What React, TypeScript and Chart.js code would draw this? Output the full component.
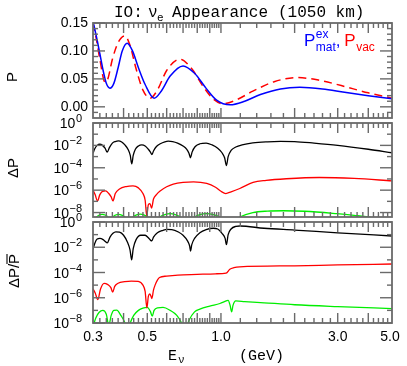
import React, { useEffect, useRef } from 'react';
import { Chart, registerables } from 'chart.js';

Chart.register(...registerables);

const W = 407;
const H = 366;

// ---------- top panel: probabilities ----------
const matE = [0.300, 0.310, 0.320, 0.330, 0.340, 0.352, 0.365, 0.380, 0.395, 0.414, 0.435, 0.460, 0.490, 0.533, 0.570, 0.620, 0.700, 0.780, 0.870, 0.960, 1.090, 1.250, 1.450, 1.750, 2.100, 2.600, 3.200, 4.000, 5.000];
const matP = [0.153, 0.125, 0.095, 0.065, 0.042, 0.0334, 0.042, 0.070, 0.100, 0.1138, 0.100, 0.070, 0.040, 0.0155, 0.028, 0.055, 0.0732, 0.060, 0.033, 0.012, 0.0036, 0.010, 0.022, 0.032, 0.035, 0.032, 0.026, 0.020, 0.0143];

const vacE = [0.300, 0.310, 0.320, 0.336, 0.345, 0.360, 0.380, 0.405, 0.425, 0.450, 0.480, 0.513, 0.550, 0.600, 0.680, 0.760, 0.850, 0.930, 1.020, 1.150, 1.350, 1.650, 2.040, 2.500, 3.100, 4.000, 5.000];
const vacP = [0.150, 0.120, 0.085, 0.044, 0.050, 0.085, 0.115, 0.127, 0.110, 0.068, 0.030, 0.0155, 0.030, 0.065, 0.0852, 0.068, 0.035, 0.014, 0.0054, 0.012, 0.028, 0.045, 0.0523, 0.048, 0.038, 0.025, 0.0155];

// ---------- middle panel: Delta P ----------
const dBlackE = [0.300, 0.305, 0.312, 0.320, 0.328, 0.336, 0.343, 0.350, 0.360, 0.370, 0.381, 0.393, 0.405, 0.418, 0.426, 0.432, 0.438, 0.447, 0.460, 0.475, 0.490, 0.505, 0.515, 0.5225, 0.530, 0.545, 0.565, 0.590, 0.609, 0.635, 0.665, 0.700, 0.725, 0.740, 0.751, 0.762, 0.785, 0.820, 0.870, 0.920, 0.970, 1.010, 1.035, 1.053, 1.070, 1.100, 1.150, 1.220, 1.350, 1.550, 1.750, 2.000, 2.400, 3.000, 4.000, 5.000];
const dBlackV = [2.0e-3, 5.0e-3, 1.0e-2, 1.26e-2, 1.0e-2, 5.6e-3, 2.5e-3, 6.3e-3, 1.6e-2, 2.2e-2, 2.5e-2, 2.0e-2, 1.1e-2, 4.0e-3, 1.26e-3, 2.2e-4, 1.26e-3, 4.5e-3, 8.9e-3, 1.1e-2, 8.9e-3, 4.5e-3, 2.5e-3, 1.5e-3, 3.2e-3, 7.9e-3, 1.4e-2, 2.1e-2, 2.4e-2, 2.2e-2, 1.6e-2, 8.9e-3, 4.5e-3, 2.0e-3, 7.9e-4, 2.5e-3, 7.9e-3, 1.4e-2, 1.6e-2, 1.1e-2, 5.6e-3, 2.2e-3, 7.9e-4, 1.6e-4, 1.0e-3, 3.5e-3, 7.1e-3, 1.1e-2, 1.66e-2, 2.1e-2, 2.3e-2, 2.2e-2, 1.6e-2, 1.0e-2, 4.5e-3, 2.2e-3];

const dRedE = [0.300, 0.306, 0.313, 0.320, 0.328, 0.338, 0.348, 0.356, 0.362, 0.370, 0.385, 0.410, 0.437, 0.460, 0.480, 0.490, 0.4975, 0.505, 0.5128, 0.5205, 0.530, 0.545, 0.5623, 0.600, 0.6386, 0.700, 0.7726, 0.8744, 0.950, 1.000, 1.047, 1.100, 1.194, 1.353, 1.530, 1.850, 2.520, 3.500, 5.000];
const dRedV = [1.0e-6, 4.0e-7, 1.1e-7, 4.0e-7, 7.9e-7, 8.7e-7, 5.0e-7, 2.5e-7, 1.1e-7, 5.0e-7, 1.26e-6, 2.1e-6, 2.4e-6, 1.6e-6, 5.0e-7, 1.26e-7, 5.0e-9, 5.0e-8, 6.3e-8, 2.5e-8, 1.6e-7, 4.0e-7, 7.9e-7, 2.0e-6, 3.5e-6, 5.0e-6, 5.5e-6, 4.0e-6, 1.8e-6, 7.9e-7, 5.0e-7, 7.1e-7, 1.4e-6, 5.0e-6, 7.6e-6, 1.05e-5, 1.35e-5, 1.12e-5, 6.8e-6];

const dGreenE = [0.300, 0.310, 0.318, 0.327, 0.336, 0.345, 0.353, 0.362, 0.371, 0.381, 0.393, 0.405, 0.420, 0.437, 0.452, 0.467, 0.484, 0.502, 0.530, 0.5623, 0.590, 0.620, 0.650, 0.682, 0.730, 0.780, 0.820, 0.874, 0.930, 0.990, 1.090, 1.194, 1.350, 1.550, 1.800, 2.200, 2.970, 3.500, 4.000, 5.000];
const dGreenV = [2.0e-9, 4.0e-9, 6.0e-9, 6.8e-9, 6.0e-9, 4.0e-9, 1.26e-9, 4.0e-9, 6.0e-9, 6.8e-9, 6.0e-9, 4.0e-9, 1.26e-9, 4.0e-9, 6.3e-9, 7.2e-9, 6.3e-9, 4.0e-9, 1.26e-9, 4.0e-9, 6.6e-9, 7.9e-9, 6.6e-9, 4.0e-9, 1.26e-9, 4.0e-9, 6.6e-9, 7.9e-9, 6.6e-9, 4.0e-9, 1.0e-9, 4.0e-9, 1.0e-8, 1.35e-8, 1.45e-8, 1.3e-8, 7.9e-9, 5.6e-9, 4.0e-9, 1.26e-9];

// ---------- bottom panel: Delta P / P-bar ----------
const rBlackE = [0.300, 0.305, 0.312, 0.320, 0.330, 0.337, 0.343, 0.352, 0.362, 0.372, 0.385, 0.400, 0.415, 0.425, 0.4316, 0.438, 0.450, 0.470, 0.490, 0.505, 0.516, 0.522, 0.530, 0.550, 0.580, 0.600, 0.630, 0.670, 0.700, 0.730, 0.745, 0.751, 0.760, 0.780, 0.820, 0.870, 0.930, 0.970, 1.010, 1.040, 1.053, 1.070, 1.100, 1.150, 1.194, 1.500, 2.000, 3.000, 5.000];
const rBlackV = [6.3e-3, 2.0e-2, 4.5e-2, 5.0e-2, 4.0e-2, 2.8e-2, 2.2e-2, 6.3e-2, 1.26e-1, 1.66e-1, 1.58e-1, 8.9e-2, 2.5e-2, 6.3e-3, 1.0e-3, 7.9e-3, 4.0e-2, 8.9e-2, 8.9e-2, 5.6e-2, 3.5e-2, 3.2e-2, 6.3e-2, 1.4e-1, 2.2e-1, 2.6e-1, 2.5e-1, 1.6e-1, 8.9e-2, 3.2e-2, 1.26e-2, 5.0e-3, 1.6e-2, 5.0e-2, 1.4e-1, 2.5e-1, 3.2e-1, 2.8e-1, 1.26e-1, 5.0e-2, 1.6e-2, 1.0e-1, 2.8e-1, 4.5e-1, 4.8e-1, 3.2e-1, 2.3e-1, 1.4e-1, 7.8e-2];

const rRedE = [0.300, 0.306, 0.314, 0.322, 0.333, 0.345, 0.355, 0.361, 0.368, 0.380, 0.404, 0.430, 0.459, 0.480, 0.490, 0.498, 0.505, 0.512, 0.518, 0.522, 0.530, 0.538, 0.550, 0.561, 0.600, 0.667, 0.800, 0.950, 1.050, 1.087, 1.130, 1.194, 2.000, 3.000, 5.000];
const rRedV = [5.0e-6, 2.5e-6, 7.1e-7, 5.0e-6, 1.4e-5, 1.1e-5, 6.3e-6, 2.8e-6, 7.9e-6, 1.4e-5, 1.86e-5, 2.1e-5, 2.0e-5, 1.0e-5, 3.2e-6, 1.6e-7, 1.26e-6, 2.0e-6, 1.26e-6, 8.7e-7, 4.0e-6, 1.0e-5, 2.5e-5, 4.0e-5, 5.2e-5, 6.3e-5, 7.1e-5, 7.9e-5, 8.9e-5, 1.8e-4, 2.4e-4, 2.8e-4, 3.4e-4, 4.0e-4, 4.7e-4];

const rGreenE = [0.300, 0.308, 0.318, 0.329, 0.340, 0.348, 0.356, 0.365, 0.375, 0.390, 0.405, 0.415, 0.426, 0.440, 0.460, 0.480, 0.500, 0.515, 0.524, 0.533, 0.550, 0.580, 0.620, 0.660, 0.690, 0.712, 0.740, 0.780, 0.820, 0.900, 0.990, 1.050, 1.070, 1.090, 1.106, 1.120, 1.150, 1.250, 1.500, 2.000, 3.000, 5.000];
const rGreenV = [5.0e-9, 2.5e-8, 7.1e-8, 1.0e-7, 5.0e-8, 6.3e-9, 4.0e-8, 1.0e-7, 1.05e-7, 4.0e-8, 1.0e-8, 1.6e-9, 1.0e-8, 4.0e-8, 1.0e-7, 1.5e-7, 1.7e-7, 7.9e-8, 3.5e-8, 1.0e-7, 1.6e-7, 1.7e-7, 1.0e-7, 4.0e-8, 1.0e-8, 1.6e-9, 1.6e-8, 7.6e-8, 1.26e-7, 2.2e-7, 3.5e-7, 5.6e-7, 6.3e-7, 2.5e-7, 7.6e-8, 2.5e-7, 5.6e-7, 5.0e-7, 4.0e-7, 2.8e-7, 2.0e-7, 1.4e-7];

// ---------- axes ----------
const xLabelValues = [0.3, 0.5, 1.0, 3.0, 5.0];
const xLabelTexts = ['0.3', '0.5', '1.0', '3.0', '5.0'];
const xMajorTicks = [0.4, 0.5, 0.6, 0.7, 0.8, 0.9, 1.0, 2.0, 3.0, 4.0];
const xMinorTicks = [
  0.32, 0.34, 0.36, 0.38, 0.42, 0.44, 0.46, 0.48, 0.52, 0.54, 0.56, 0.58, 0.62, 0.64, 0.66, 0.68,
  0.72, 0.74, 0.76, 0.78, 0.82, 0.84, 0.86, 0.88, 0.92, 0.94, 0.96, 0.98,
  1.2, 1.4, 1.6, 1.8, 2.2, 2.4, 2.6, 2.8, 3.2, 3.4, 3.6, 3.8, 4.2, 4.4, 4.6, 4.8,
];
const pLabelValues = [0, 0.05, 0.1, 0.15];
const pLabelTexts = ['0.00', '0.05', '0.10', '0.15'];
const pMinorTicks = [-0.01, 0.01, 0.02, 0.03, 0.04, 0.06, 0.07, 0.08, 0.09, 0.11, 0.12, 0.13, 0.14];
const logMajorExp = [0, -2, -4, -6, -8];
const logMinorExp = [-1, -3, -5, -7];

const AXIS = '#6a6a6a';
const SANS = '"Liberation Sans", Arial, sans-serif';
const MONO = '"Liberation Mono", "Courier New", monospace';

type Panel = {
  top: number;
  bottom: number;
  yType: 'linear' | 'logarithmic';
  yMin: number;
  yMax: number;
  series: { e: number[]; v: number[]; color: string; dash?: number[]; width?: number }[];
  kind: 'top' | 'mid' | 'bot';
};

const PLOT_LEFT = 93;
const PLOT_RIGHT = 392;

function toPts(e: number[], v: number[]) {
  return e.map((x, i) => ({ x, y: v[i] }));
}

function makePlugin(panel: Panel) {
  return {
    id: 'frame_' + panel.kind,
    afterDatasetsDraw(chart: any) {
      const ctx: CanvasRenderingContext2D = chart.ctx;
      const a = chart.chartArea;
      const xs = chart.scales.x;
      const ys = chart.scales.y;
      ctx.save();
      ctx.strokeStyle = AXIS;
      ctx.lineWidth = 1.4;
      const seg = (x1: number, y1: number, x2: number, y2: number) => {
        ctx.beginPath();
        ctx.moveTo(x1, y1);
        ctx.lineTo(x2, y2);
        ctx.stroke();
      };
      // x ticks on top and bottom edges
      for (const t of xMajorTicks) {
        const px = xs.getPixelForValue(t);
        seg(px, a.bottom, px, a.bottom - 10);
        seg(px, a.top, px, a.top + 10);
      }
      for (const t of xMinorTicks) {
        const px = xs.getPixelForValue(t);
        seg(px, a.bottom, px, a.bottom - 5);
        seg(px, a.top, px, a.top + 5);
      }
      // y ticks
      let majorVals: number[];
      let minorVals: number[];
      if (panel.yType === 'linear') {
        majorVals = pLabelValues;
        minorVals = pMinorTicks;
      } else {
        majorVals = logMajorExp.map((e) => Math.pow(10, e));
        minorVals = logMinorExp.map((e) => Math.pow(10, e));
      }
      for (const v of majorVals) {
        const py = ys.getPixelForValue(v);
        if (py < a.top - 0.5 || py > a.bottom + 0.5) continue;
        seg(a.left, py, a.left + 12, py);
        seg(a.right, py, a.right - 12, py);
      }
      for (const v of minorVals) {
        const py = ys.getPixelForValue(v);
        if (py < a.top - 0.5 || py > a.bottom + 0.5) continue;
        seg(a.left, py, a.left + 5, py);
        seg(a.right, py, a.right - 5, py);
      }
      // frame
      ctx.lineWidth = 1.8;
      ctx.strokeRect(a.left, a.top, a.right - a.left, a.bottom - a.top);

      // y tick labels
      ctx.fillStyle = '#000';
      if (panel.yType === 'linear') {
        ctx.font = '14px ' + SANS;
        ctx.textAlign = 'right';
        ctx.textBaseline = 'middle';
        pLabelValues.forEach((v, i) => {
          ctx.fillText(pLabelTexts[i], 88, ys.getPixelForValue(v));
        });
      } else {
        ctx.textBaseline = 'alphabetic';
        logMajorExp.forEach((e) => {
          const py = ys.getPixelForValue(Math.pow(10, e));
          const expText = e === 0 ? '0' : '\u2212' + String(-e);
          ctx.font = '11px ' + SANS;
          const ew = ctx.measureText(expText).width;
          ctx.textAlign = 'left';
          const baseRight = 82 - ew - 0.5;
          ctx.fillText(expText, baseRight + 0.5, py - 1);
          ctx.font = '14px ' + SANS;
          ctx.textAlign = 'right';
          ctx.fillText('10', baseRight, py + 5);
        });
      }

      // axis titles and extra text
      ctx.textAlign = 'left';
      ctx.textBaseline = 'alphabetic';
      if (panel.kind === 'top') {
        // title
        ctx.fillStyle = '#000';
        ctx.font = '16px ' + MONO;
        ctx.fillText('IO:', 114, 17);
        ctx.fillText('\u03bd', 148, 17);
        ctx.font = '11px ' + MONO;
        ctx.fillText('e', 157, 21);
        ctx.font = '16px ' + MONO;
        ctx.fillText('Appearance', 172, 17);
        ctx.fillText('(1050 km)', 278, 17);
        // legend
        const big = '17px ' + SANS;
        const small = '12px ' + SANS;
        let x = 304;
        ctx.fillStyle = '#0000ff';
        ctx.font = big;
        ctx.fillText('P', x, 46);
        x += ctx.measureText('P').width + 0.5;
        ctx.font = small;
        ctx.fillText('ex', x, 38);
        ctx.fillText('mat', x, 51);
        x += ctx.measureText('mat').width;
        ctx.font = big;
        ctx.fillText(',', x, 46);
        x += ctx.measureText(', ').width - 1;
        ctx.fillStyle = '#ff0000';
        ctx.fillText('P', x, 46);
        x += ctx.measureText('P').width + 0.5;
        ctx.font = small;
        ctx.fillText('vac', x, 51);
        // y title
        ctx.fillStyle = '#000';
        ctx.save();
        ctx.translate(13, 77);
        ctx.rotate(-Math.PI / 2);
        ctx.font = '15px ' + SANS;
        ctx.textAlign = 'center';
        ctx.textBaseline = 'middle';
        ctx.fillText('P', 0, 0);
        ctx.restore();
      } else if (panel.kind === 'mid') {
        ctx.save();
        ctx.translate(14, 168);
        ctx.rotate(-Math.PI / 2);
        ctx.font = '15px ' + SANS;
        ctx.textAlign = 'center';
        ctx.textBaseline = 'middle';
        ctx.fillText('\u0394P', 0, 0);
        ctx.restore();
      } else {
        // y title with overline on second P
        ctx.save();
        ctx.translate(15, 271);
        ctx.rotate(-Math.PI / 2);
        ctx.font = '15px ' + SANS;
        ctx.textBaseline = 'middle';
        const t1 = '\u0394P/';
        const w1 = ctx.measureText(t1).width;
        const w2 = ctx.measureText('P').width;
        const x0 = -(w1 + w2) / 2;
        ctx.textAlign = 'left';
        ctx.fillText(t1, x0, 0);
        ctx.fillText('P', x0 + w1, 0);
        ctx.strokeStyle = '#000';
        ctx.lineWidth = 1.1;
        ctx.beginPath();
        ctx.moveTo(x0 + w1, -8);
        ctx.lineTo(x0 + w1 + w2, -8);
        ctx.stroke();
        ctx.restore();
        // x tick labels
        ctx.fillStyle = '#000';
        ctx.font = '14px ' + SANS;
        ctx.textAlign = 'center';
        ctx.textBaseline = 'middle';
        xLabelValues.forEach((v, i) => {
          let px = xs.getPixelForValue(v);
          if (i === xLabelValues.length - 1) px = Math.min(px, W - 17);
          ctx.fillText(xLabelTexts[i], px, 337);
        });
        // x title
        ctx.textAlign = 'left';
        ctx.textBaseline = 'alphabetic';
        ctx.font = '15px ' + MONO;
        ctx.fillText('E', 168, 360);
        ctx.font = '11px ' + MONO;
        ctx.fillText('\u03bd', 178, 363);
        ctx.font = '15px ' + MONO;
        ctx.fillText('(GeV)', 239, 360);
      }
      ctx.restore();
    },
  };
}

const panels: Panel[] = [
  {
    kind: 'top',
    top: 23,
    bottom: 118,
    yType: 'linear',
    yMin: -0.02,
    yMax: 0.15,
    series: [
      { e: matE, v: matP, color: '#0000ff', width: 1.5 },
      { e: vacE, v: vacP, color: '#ff0000', dash: [8, 5], width: 1.5 },
    ],
  },
  {
    kind: 'mid',
    top: 123,
    bottom: 217,
    yType: 'logarithmic',
    yMin: 4e-9,
    yMax: 1,
    series: [
      { e: dBlackE, v: dBlackV, color: '#000000' },
      { e: dRedE, v: dRedV, color: '#ff0000' },
      { e: dGreenE, v: dGreenV, color: '#00ee00' },
    ],
  },
  {
    kind: 'bot',
    top: 222,
    bottom: 323,
    yType: 'logarithmic',
    yMin: 1e-8,
    yMax: 1,
    series: [
      { e: rBlackE, v: rBlackV, color: '#000000' },
      { e: rRedE, v: rRedV, color: '#ff0000' },
      { e: rGreenE, v: rGreenV, color: '#00ee00' },
    ],
  },
];

function PanelChart({ panel }: { panel: Panel }) {
  const ref = useRef<HTMLCanvasElement | null>(null);
  useEffect(() => {
    if (!ref.current) return;
    const chart = new Chart(ref.current, {
      type: 'line',
      data: {
        datasets: panel.series.map((s) => ({
          data: toPts(s.e, s.v),
          borderColor: s.color,
          backgroundColor: s.color,
          borderWidth: s.width ?? 1.3,
          borderDash: s.dash ?? [],
          pointRadius: 0,
          fill: false,
          cubicInterpolationMode: 'monotone' as const,
          clip: 0,
        })),
      },
      options: {
        animation: false,
        responsive: false,
        devicePixelRatio: 1,
        events: [],
        layout: {
          padding: { left: PLOT_LEFT, right: W - PLOT_RIGHT, top: panel.top, bottom: H - panel.bottom },
        },
        plugins: {
          legend: { display: false },
          title: { display: false },
          tooltip: { enabled: false },
        },
        scales: {
          x: { type: 'logarithmic', min: 0.3, max: 5, display: false },
          y: { type: panel.yType, min: panel.yMin, max: panel.yMax, display: false },
        },
      },
      plugins: [makePlugin(panel)],
    } as any);
    return () => chart.destroy();
  }, [panel]);
  return (
    <canvas
      ref={ref}
      width={W}
      height={H}
      style={{ position: 'absolute', left: 0, top: 0, width: W, height: H }}
    />
  );
}

export default function App() {
  return (
    <div style={{ position: 'absolute', left: 0, top: 0, width: W, height: H, background: '#ffffff', overflow: 'hidden' }}>
      {panels.map((p) => (
        <PanelChart key={p.kind} panel={p} />
      ))}
    </div>
  );
}
